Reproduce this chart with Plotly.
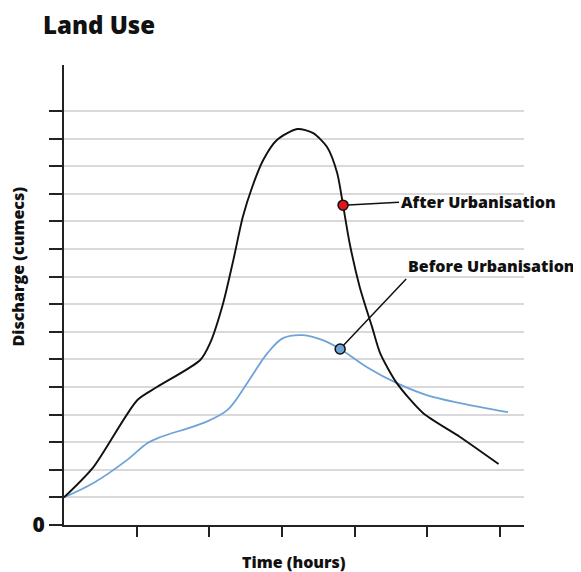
import plotly.graph_objects as go

# After urbanisation (black) hydrograph
after_x = [0, 0.405, 1.01, 1.28, 1.875, 2.01, 2.19, 2.33, 2.46, 2.59, 2.74, 2.93, 3.21, 3.43, 3.62, 3.76, 3.84, 3.93, 4.07, 4.24, 4.35, 4.58, 4.94, 5.45, 5.98]
after_y = [1.0, 2.10, 4.53, 5.0, 5.98, 6.59, 8.04, 9.60, 11.16, 12.25, 13.22, 13.95, 14.35, 14.20, 13.70, 12.75, 11.59, 10.22, 8.62, 7.17, 6.23, 5.14, 4.06, 3.19, 2.21]

# Before urbanisation (blue) hydrograph
before_x = [0, 0.405, 0.87, 1.15, 1.33, 1.92, 2.25, 2.52, 2.80, 3.02, 3.29, 3.56, 3.80, 4.17, 4.58, 4.99, 5.45, 6.11]
before_y = [1.0, 1.52, 2.36, 2.97, 3.19, 3.70, 4.17, 5.14, 6.23, 6.78, 6.88, 6.70, 6.38, 5.72, 5.14, 4.71, 4.42, 4.09]

after_marker = (3.84, 11.59)
before_marker = (3.80, 6.38)

y_ticks = list(range(0, 16))
y_ticktext = ["0"] + [""] * 15
x_ticks = [1, 2, 3, 4, 5, 6]

FONT = "Open Sans"
W = 800

fig = go.Figure()
fig.add_trace(go.Scatter(x=before_x, y=before_y, mode="lines",
                         line=dict(color="#6fa3d8", width=1.8, shape="spline", smoothing=1.0),
                         hoverinfo="skip"))
fig.add_trace(go.Scatter(x=after_x, y=after_y, mode="lines",
                         line=dict(color="#111111", width=1.9, shape="spline", smoothing=0.7),
                         hoverinfo="skip"))
fig.add_trace(go.Scatter(x=[after_marker[0]], y=[after_marker[1]], mode="markers",
                         marker=dict(color="#e8121a", size=10, line=dict(color="#111", width=1.5)),
                         hoverinfo="skip"))
fig.add_trace(go.Scatter(x=[before_marker[0]], y=[before_marker[1]], mode="markers",
                         marker=dict(color="#6fa3d8", size=10, line=dict(color="#111", width=1.5)),
                         hoverinfo="skip"))

ann = [
    dict(x=after_marker[0], y=after_marker[1], xref="x", yref="y",
         text="After Urbanisation", showarrow=True, arrowhead=0, arrowwidth=1.5,
         arrowcolor="#111", ax=56, ay=-3, xanchor="left", yanchor="middle",
         standoff=5, font=dict(family=FONT, size=16, color="#111", weight=W)),
    dict(x=before_marker[0], y=before_marker[1], xref="x", yref="y",
         text="Before Urbanisation", showarrow=True, arrowhead=0, arrowwidth=1.5,
         arrowcolor="#111", ax=66, ay=-70, xanchor="left", yanchor="bottom",
         standoff=5, font=dict(family=FONT, size=16, color="#111", weight=W)),
    dict(x=-0.05, y=1.087, xref="paper", yref="paper", text="Land Use",
         showarrow=False, xanchor="left", yanchor="middle",
         font=dict(family=FONT, size=24, color="#111", weight=W)),
    dict(x=-0.099, y=0.563, xref="paper", yref="paper", text="Discharge (cumecs)",
         showarrow=False, textangle=-90, xanchor="center", yanchor="middle",
         font=dict(family=FONT, size=16, color="#111", weight=W)),
    dict(x=0.501, y=-0.080, xref="paper", yref="paper", text="Time (hours)",
         showarrow=False, xanchor="center", yanchor="middle",
         font=dict(family=FONT, size=16, color="#111", weight=W)),
]

fig.update_layout(
    width=573, height=564,
    margin=dict(l=56, r=57, t=57, b=47),
    paper_bgcolor="white", plot_bgcolor="white",
    showlegend=False,
    annotations=ann,
    xaxis=dict(range=[0, 6.33], tickvals=x_ticks, ticktext=[""] * len(x_ticks),
               ticks="outside", ticklen=10, tickwidth=2, tickcolor="#222",
               showline=True, linecolor="#222", linewidth=2,
               showgrid=False, zeroline=False, fixedrange=True),
    yaxis=dict(range=[0, 16.67], tickvals=y_ticks, ticktext=y_ticktext,
               ticks="outside", ticklen=13, tickwidth=2, tickcolor="#222",
               tickfont=dict(family=FONT, size=21, color="#111", weight=W),
               showline=True, linecolor="#222", linewidth=2,
               showgrid=True, gridcolor="#d9d9d9", gridwidth=2,
               zeroline=False, fixedrange=True),
)

fig.write_html("out.html")
